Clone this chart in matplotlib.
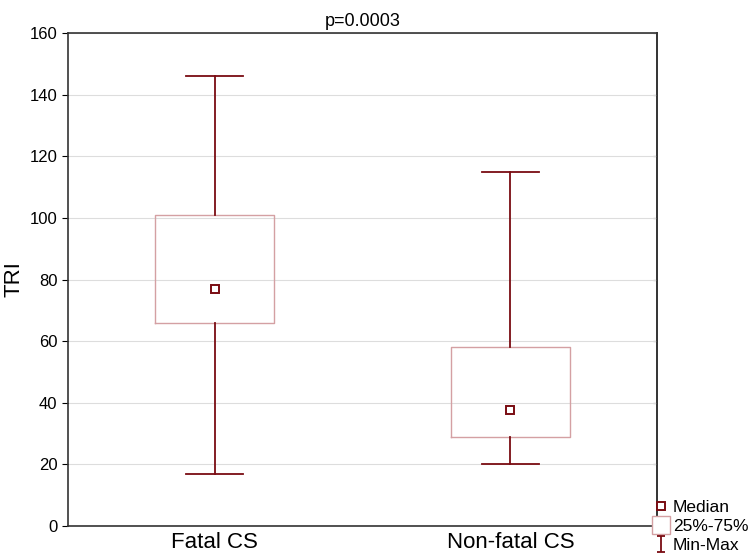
import matplotlib
matplotlib.use("Agg")
import matplotlib.pyplot as plt
from matplotlib.lines import Line2D
from matplotlib.path import Path

plt.rcParams["font.family"] = ["Liberation Sans", "DejaVu Sans"]

groups = ["Fatal CS", "Non-fatal CS"]
mins = [17, 20]
q1s = [66, 29]
medians = [77, 37.5]
q3s = [101, 58]
maxs = [146, 115]
title = "p=0.0003"

dark = "#7a0c12"
light = "#d4a0a3"

fig = plt.figure(figsize=(7.5, 5.56), dpi=100)
ax = fig.add_axes([0.0907, 0.054, 0.7853, 0.8866])

stats = []
for g, lo, a, m, b, hi in zip(groups, mins, q1s, medians, q3s, maxs):
    stats.append({"label": g, "whislo": lo, "q1": a, "med": m, "q3": b, "whishi": hi})

pos = [1, 2]
ax.bxp(stats, positions=pos, widths=0.4, capwidths=0.19, showfliers=False,
       boxprops=dict(color=light, linewidth=1.0),
       whiskerprops=dict(color=dark, linewidth=1.3),
       capprops=dict(color=dark, linewidth=1.3),
       medianprops=dict(linestyle="none"), zorder=3)
ax.plot(pos, medians, linestyle="none", marker="s", markersize=6,
        markerfacecolor="white", markeredgecolor=dark, markeredgewidth=1.4, zorder=4)

ax.set_xlim(0.505, 2.495)
ax.set_ylim(0, 160)
yt = list(range(0, 161, 20))
ax.set_yticks(yt)
ax.set_xticks(pos)
ax.set_xticklabels(groups, fontsize=16)
ax.tick_params(axis="y", labelsize=12, direction="out", length=4)
ax.tick_params(axis="x", length=0, pad=4)
ax.yaxis.grid(True, color="#dddddd", linewidth=0.8, zorder=0)
ax.set_axisbelow(True)
for s in ax.spines.values():
    s.set_color("#333333")
    s.set_linewidth(1.2)

sec = ax.secondary_yaxis("right")
sec.set_yticks(yt)
sec.tick_params(direction="in", length=3, labelright=False, color="#333333")
sec.spines["right"].set_color("#333333")
sec.spines["right"].set_linewidth(1.2)

ax.set_ylabel("TRI", fontsize=16)
ax.set_title(title, fontsize=13, pad=5)

imarker = Path([(-0.5, 1), (0.5, 1), (0, 1), (0, -1), (-0.5, -1), (0.5, -1)],
               [Path.MOVETO, Path.LINETO, Path.MOVETO, Path.LINETO, Path.MOVETO, Path.LINETO])
handles = [
    Line2D([], [], linestyle="none", marker="s", markersize=6, markerfacecolor="white",
           markeredgecolor=dark, markeredgewidth=1.4),
    Line2D([], [], linestyle="none", marker="s", markersize=13, markerfacecolor="white",
           markeredgecolor=light, markeredgewidth=1.0),
    Line2D([], [], linestyle="none", marker=imarker, markersize=12, color=dark,
           markeredgewidth=1.3),
]
fig.legend(handles, ["Median", "25%-75%", "Min-Max"], loc="lower right",
           bbox_to_anchor=(1.0, 0.002), frameon=False, fontsize=12.5,
           handlelength=0.8, handletextpad=0.3, labelspacing=0.22,
           borderpad=0.1, borderaxespad=0.0)

fig.savefig("out.png", dpi=100)
